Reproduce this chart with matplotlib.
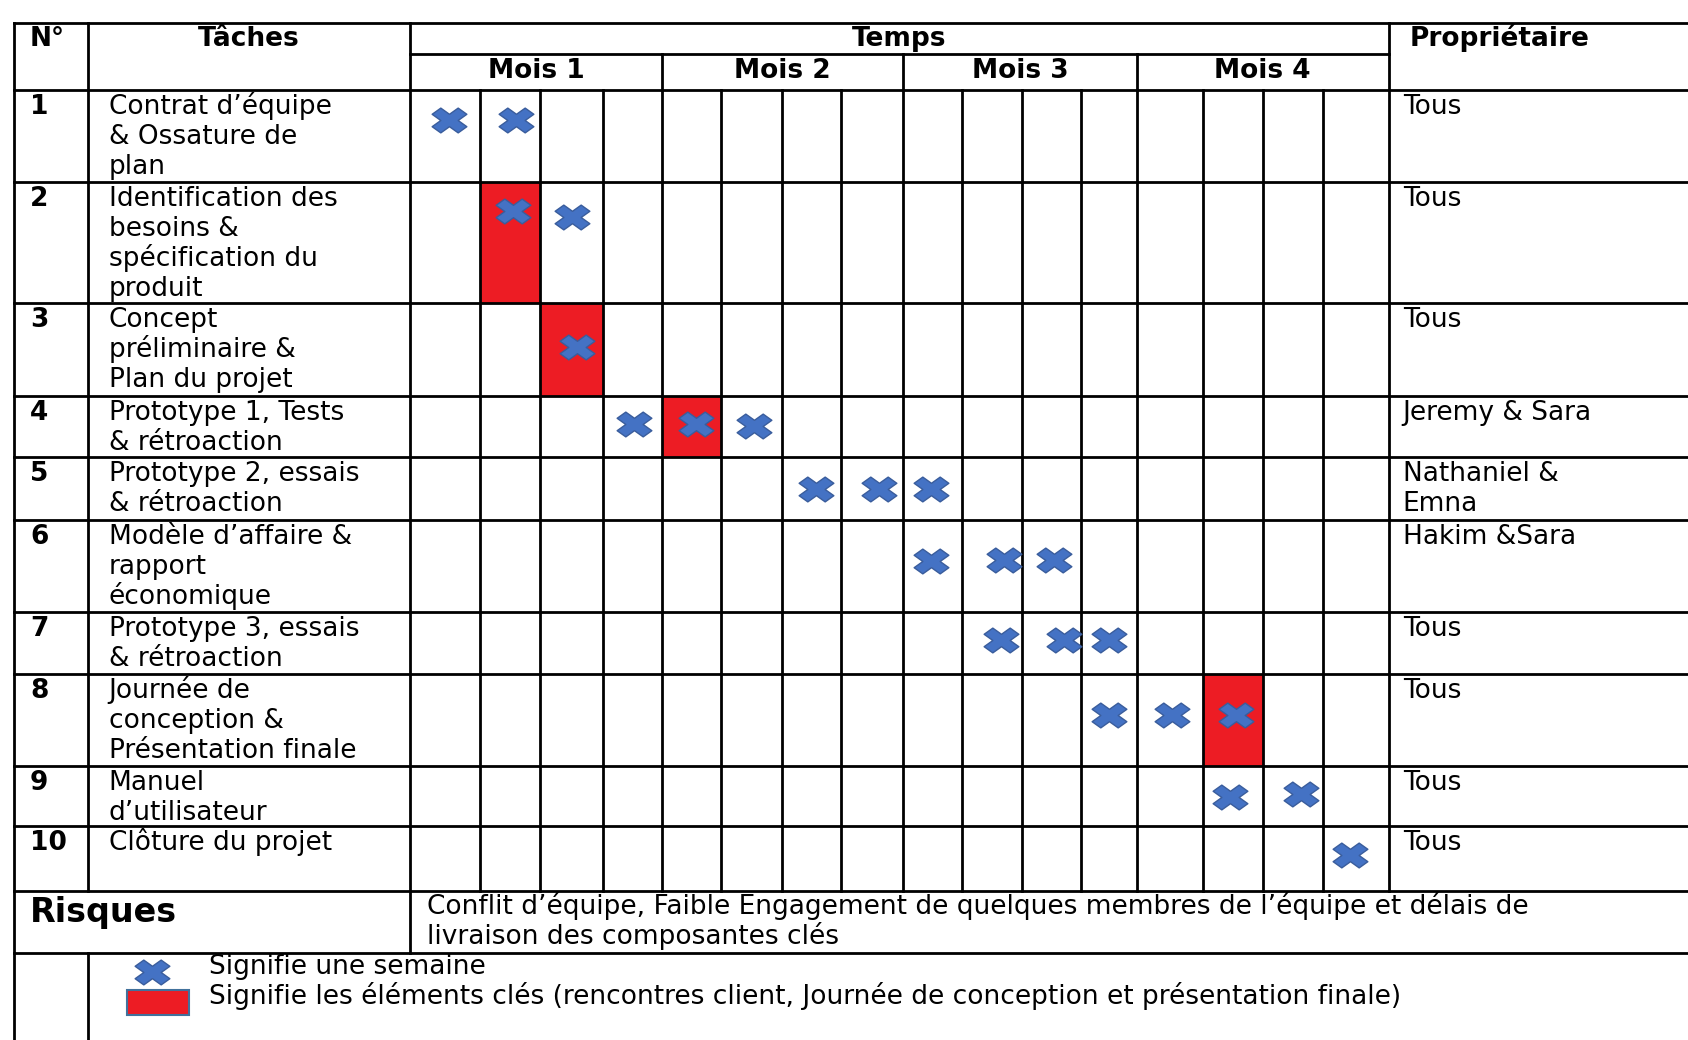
import matplotlib.pyplot as plt
import numpy as np
from matplotlib.path import Path
from matplotlib.patches import Rectangle

# ---- data ----
numbers = ["1", "2", "3", "4", "5", "6", "7", "8", "9", "10"]
tasks = [
    "Contrat d’équipe\n& Ossature de\nplan",
    "Identification des\nbesoins &\nspécification du\nproduit",
    "Concept\npréliminaire &\nPlan du projet",
    "Prototype 1, Tests\n& rétroaction",
    "Prototype 2, essais\n& rétroaction",
    "Modèle d’affaire &\nrapport\néconomique",
    "Prototype 3, essais\n& rétroaction",
    "Journée de\nconception &\nPrésentation finale",
    "Manuel\nd’utilisateur",
    "Clôture du projet",
]
owners = ["Tous", "Tous", "Tous", "Jeremy & Sara", "Nathaniel &\nEmna",
          "Hakim &Sara", "Tous", "Tous", "Tous", "Tous"]
months = ["Mois 1", "Mois 2", "Mois 3", "Mois 4"]
weeks_per_month = [4, 4, 4, 4]
# week index (0..15) of each cross, slightly off-centre as in the picture
cross_weeks = [[0.05, 1.09], [1.04, 2.0], [2.09], [3.03, 4.08, 5.04],
               [6.08, 7.12, 7.97], [7.97, 9.21, 10.05], [9.15, 10.21, 11.0],
               [11.0, 12.04, 13.05], [12.95, 14.14], [14.91]]
cross_rowpos = [[0.33, 0.33], [0.24, 0.29], [0.48], [0.47, 0.47, 0.5],
                [0.51, 0.51, 0.51], [0.45, 0.44, 0.44], [0.46, 0.46, 0.46],
                [0.45, 0.45, 0.45], [0.51, 0.46], [0.45]]
key_tasks = [1, 2, 3, 7]
key_weeks = [1, 2, 4, 13]
risk_text = ["Conflit d’équipe, Faible Engagement de quelques membres de l’équipe et délais de",
             "livraison des composantes clés"]
legend_text = ["Signifie une semaine",
               "Signifie les éléments clés (rencontres client, Journée de conception et présentation finale)"]

# ---- layout (pixels) ----
W, H = 1688, 1040
x_left, x_num, x_task, x_owner = 14, 88, 410, 1388.7
week_edges = [410, 480, 540.4, 602.9, 662.1, 721.3, 781.6, 840.8, 903.2,
              962.4, 1021.6, 1080.8, 1136.8, 1202.5, 1262.8, 1323.1, 1388.7]
y_top, y_temps, y_head = 22.5, 54, 89.5
row_edges = [89.5, 181.5, 303, 395.5, 457, 519.5, 612, 673.5, 766, 826, 890.5]
y_risk = 952.5

FONT = "DejaVu Sans"
FS = 19
LW = 2.0
blue, blue_edge, red = "#4472C4", "#3A5D9C", "#ED1C24"

# thick X marker, stretched like the picture
d = 0.5
xv = [(0, d), (1 - d, 1), (1, 1 - d), (d, 0), (1, -(1 - d)), (1 - d, -1),
      (0, -d), (-(1 - d), -1), (-1, -(1 - d)), (-d, 0), (-1, 1 - d), (-(1 - d), 1), (0, d)]
xv = [(1.4 * a, b) for a, b in xv]
cross = Path(xv, closed=True)
MS = 25

fig = plt.figure(figsize=(W / 100, H / 100), dpi=100)
ax = fig.add_axes([0, 0, 1, 1])
ax.set_xlim(0, W)
ax.set_ylim(H, 0)
ax.axis("off")


def hline(y, x0, x1):
    ax.plot([x0, x1], [y, y], color="black", lw=LW, solid_capstyle="projecting")


def vline(x, y0, y1):
    ax.plot([x, x], [y0, y1], color="black", lw=LW, solid_capstyle="projecting")


def lines_text(x, y, s):
    for k, line in enumerate(s.split("\n")):
        ax.text(x, y + k * 30, line, va="baseline", ha="left",
                fontsize=FS, family=FONT, color="black")


# red key cells
for t, wk in zip(key_tasks, key_weeks):
    ax.add_patch(Rectangle((week_edges[wk], row_edges[t]),
                           week_edges[wk + 1] - week_edges[wk],
                           row_edges[t + 1] - row_edges[t],
                           facecolor=red, edgecolor="none", zorder=1))

# grid
hline(y_top, x_left, W)
hline(y_temps, x_task, x_owner)
for y in row_edges:
    hline(y, x_left, W)
hline(y_risk, x_left, W)
vline(x_left, y_top, H)
vline(x_num, y_top, row_edges[-1])
vline(x_num, y_risk, H)
vline(x_task, y_top, y_risk)
vline(x_owner, y_top, row_edges[-1])
for x in week_edges[1:-1]:
    vline(x, y_head, row_edges[-1])
m_edges = np.cumsum([0] + weeks_per_month)
for m in m_edges[1:-1]:
    vline(week_edges[m], y_temps, y_head)

# headers
hb = y_top + 23
ax.text(30, hb, "N°", fontsize=FS, fontweight="bold", family=FONT, va="baseline")
ax.text((x_num + x_task) / 2, hb, "Tâches", fontsize=FS, fontweight="bold",
        family=FONT, va="baseline", ha="center")
ax.text((x_task + x_owner) / 2, hb, "Temps", fontsize=FS, fontweight="bold",
        family=FONT, va="baseline", ha="center")
ax.text(1410, hb, "Propriétaire", fontsize=FS, fontweight="bold",
        family=FONT, va="baseline")
for i, name in enumerate(months):
    xc = (week_edges[m_edges[i]] + week_edges[m_edges[i + 1]]) / 2
    ax.text(xc, y_temps + 24.5, name, fontsize=FS, fontweight="bold",
            family=FONT, va="baseline", ha="center")

# task rows
for i in range(len(tasks)):
    yb = row_edges[i] + 24
    ax.text(30, yb, numbers[i], fontsize=FS, fontweight="bold", family=FONT, va="baseline")
    lines_text(108.7, yb, tasks[i])
    lines_text(1402.7, yb, owners[i])
    top, h = row_edges[i], row_edges[i + 1] - row_edges[i]
    xs = np.interp(np.array(cross_weeks[i]) + 0.5, np.arange(len(week_edges)), week_edges)
    ys = top + np.array(cross_rowpos[i]) * h
    ax.plot(xs, ys, linestyle="none", marker=cross, markersize=MS,
            markerfacecolor=blue, markeredgecolor=blue_edge, markeredgewidth=1, zorder=3)

# risks
ax.text(30, 922, "Risques", fontsize=24, fontweight="bold", family=FONT, va="baseline")
lines_text(427.4, 913.5, "\n".join(risk_text))

# legend
ax.plot([151.8], [971.7], linestyle="none", marker=cross, markersize=MS,
        markerfacecolor=blue, markeredgecolor=blue_edge, markeredgewidth=1)
ax.add_patch(Rectangle((127.4, 990), 61.2, 25, facecolor=red,
                       edgecolor="#41719C", lw=1.5))
lines_text(208.7, 974, "\n".join(legend_text))

fig.savefig("out.png", dpi=100)
